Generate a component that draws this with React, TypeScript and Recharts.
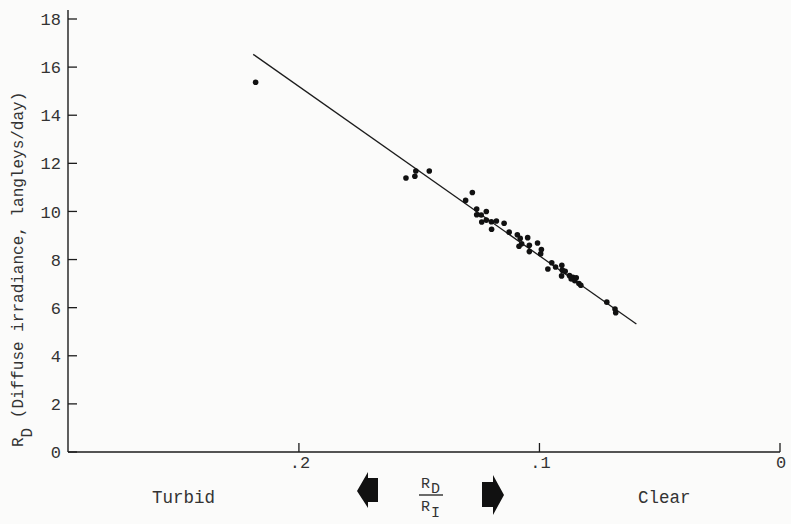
import React from "react";
import {
  ScatterChart,
  Scatter,
  XAxis,
  YAxis,
  ReferenceLine,
} from "recharts";

// ratio R_D / R_I for each observation
const ratioValues = [
  0.218, 0.1555, 0.1518, 0.1514, 0.1458, 0.1279, 0.1307, 0.1261, 0.1221,
  0.1261, 0.1242, 0.1221, 0.124, 0.12, 0.1179, 0.1147, 0.1199, 0.1126, 0.1092,
  0.108, 0.1049, 0.1008, 0.1074, 0.1042, 0.1085, 0.0992, 0.1042, 0.0995,
  0.0949, 0.0907, 0.0965, 0.0933, 0.0905, 0.0893, 0.0875, 0.0861, 0.0847,
  0.0908, 0.0868, 0.0853, 0.0836, 0.0828, 0.072, 0.0686, 0.0683,
];

// diffuse irradiance, langleys/day
const diffuseValues = [
  15.37, 11.39, 11.46, 11.68, 11.68, 10.79, 10.46, 10.1, 10.0, 9.86, 9.85,
  9.64, 9.56, 9.57, 9.6, 9.51, 9.26, 9.14, 9.03, 8.88, 8.91, 8.69, 8.66, 8.59,
  8.55, 8.42, 8.33, 8.24, 7.87, 7.76, 7.61, 7.69, 7.56, 7.51, 7.33, 7.26, 7.24,
  7.32, 7.19, 7.12, 7.0, 6.93, 6.23, 5.94, 5.79,
];

// fitted line end points
const fitX = [0.219, 0.0597];
const fitY = [16.53, 5.32];

const xTicks = [0, 0.1, 0.2];
const xTickLabels = ["0", ".1", ".2"];
const yTicks = [0, 2, 4, 6, 8, 10, 12, 14, 16, 18];

const points = ratioValues.map((r, i) => ({ ratio: r, diffuse: diffuseValues[i] }));

const INK = "#1c1c1c";
const MONO = "'Liberation Mono', 'DejaVu Sans Mono', monospace";

const YTick = (props: any) => {
  const { x, y, payload } = props;
  return (
    <g>
      <line x1={x} x2={x + 9} y1={y} y2={y} stroke={INK} strokeWidth={1.3} />
      <text
        x={x - 7}
        y={y}
        dy="0.36em"
        textAnchor="end"
        fontFamily={MONO}
        fontSize={17}
        fill="#333"
      >
        {payload.value}
      </text>
    </g>
  );
};

const XTick = (props: any) => {
  const { x, y, payload } = props;
  const idx = xTicks.indexOf(payload.value);
  return (
    <g>
      <line x1={x} x2={x} y1={y} y2={y - 9} stroke={INK} strokeWidth={1.3} />
      <text
        x={x + 1}
        y={y + 16}
        textAnchor="middle"
        fontFamily={MONO}
        fontSize={17}
        fill="#333"
      >
        {idx >= 0 ? xTickLabels[idx] : payload.value}
      </text>
    </g>
  );
};

const YTitle = () => (
  <text
    transform="translate(23,447) rotate(-90)"
    fontFamily={MONO}
    fontSize={16}
    fill="#333"
  >
    <tspan>R</tspan>
    <tspan dy={9}>D</tspan>
    <tspan dy={-9}> (Diffuse irradiance, langleys/day)</tspan>
  </text>
);

const BottomNotes = () => (
  <g fontFamily={MONO} fill="#333">
    <text x={152} y={503} fontSize={17.5}>
      Turbid
    </text>
    <text x={638} y={503} fontSize={17.5}>
      Clear
    </text>
    <text x={421} y={488} fontSize={15}>
      R
    </text>
    <text x={431} y={493} fontSize={15}>
      D
    </text>
    <line x1={419} x2={443} y1={495} y2={495} stroke={INK} strokeWidth={1.3} />
    <text x={421} y={511} fontSize={15}>
      R
    </text>
    <text x={431} y={517} fontSize={15}>
      I
    </text>
    <polygon
      points="357,491 368,472 368,478 378,478 378,502 368,502 368,508"
      fill="#111"
    />
    <polygon
      points="482,482 493,482 493,475 504,495 493,515 493,507 482,507"
      fill="#111"
    />
  </g>
);

export default function App() {
  return (
    <div
      style={{
        position: "absolute",
        left: 0,
        top: 0,
        width: 791,
        height: 524,
        background: "#fbfbfa",
      }}
    >
      <ScatterChart
        width={791}
        height={524}
        margin={{ top: 10, right: 11, left: 0, bottom: 0 }}
      >
        <XAxis
          type="number"
          dataKey="ratio"
          domain={[0, 0.296]}
          reversed
          ticks={xTicks}
          interval={0}
          height={72}
          tickSize={0}
          tickMargin={0}
          tickLine={false}
          tick={<XTick />}
          axisLine={{ stroke: INK, strokeWidth: 1.4 }}
          allowDataOverflow
          label={{ content: () => <BottomNotes /> }}
        />
        <YAxis
          type="number"
          dataKey="diffuse"
          domain={[0, 18.374]}
          ticks={yTicks}
          interval={0}
          width={68}
          tickSize={0}
          tickMargin={0}
          tickLine={false}
          tick={<YTick />}
          axisLine={{ stroke: INK, strokeWidth: 1.4 }}
          allowDataOverflow
          label={{ content: () => <YTitle /> }}
        />
        <ReferenceLine
          segment={[
            { x: fitX[0], y: fitY[0] },
            { x: fitX[1], y: fitY[1] },
          ]}
          stroke={INK}
          strokeWidth={1.3}
        />
        <Scatter
          data={points}
          isAnimationActive={false}
          shape={(p: any) => <circle cx={p.cx} cy={p.cy} r={2.8} fill="#111" />}
        />
      </ScatterChart>
    </div>
  );
}
